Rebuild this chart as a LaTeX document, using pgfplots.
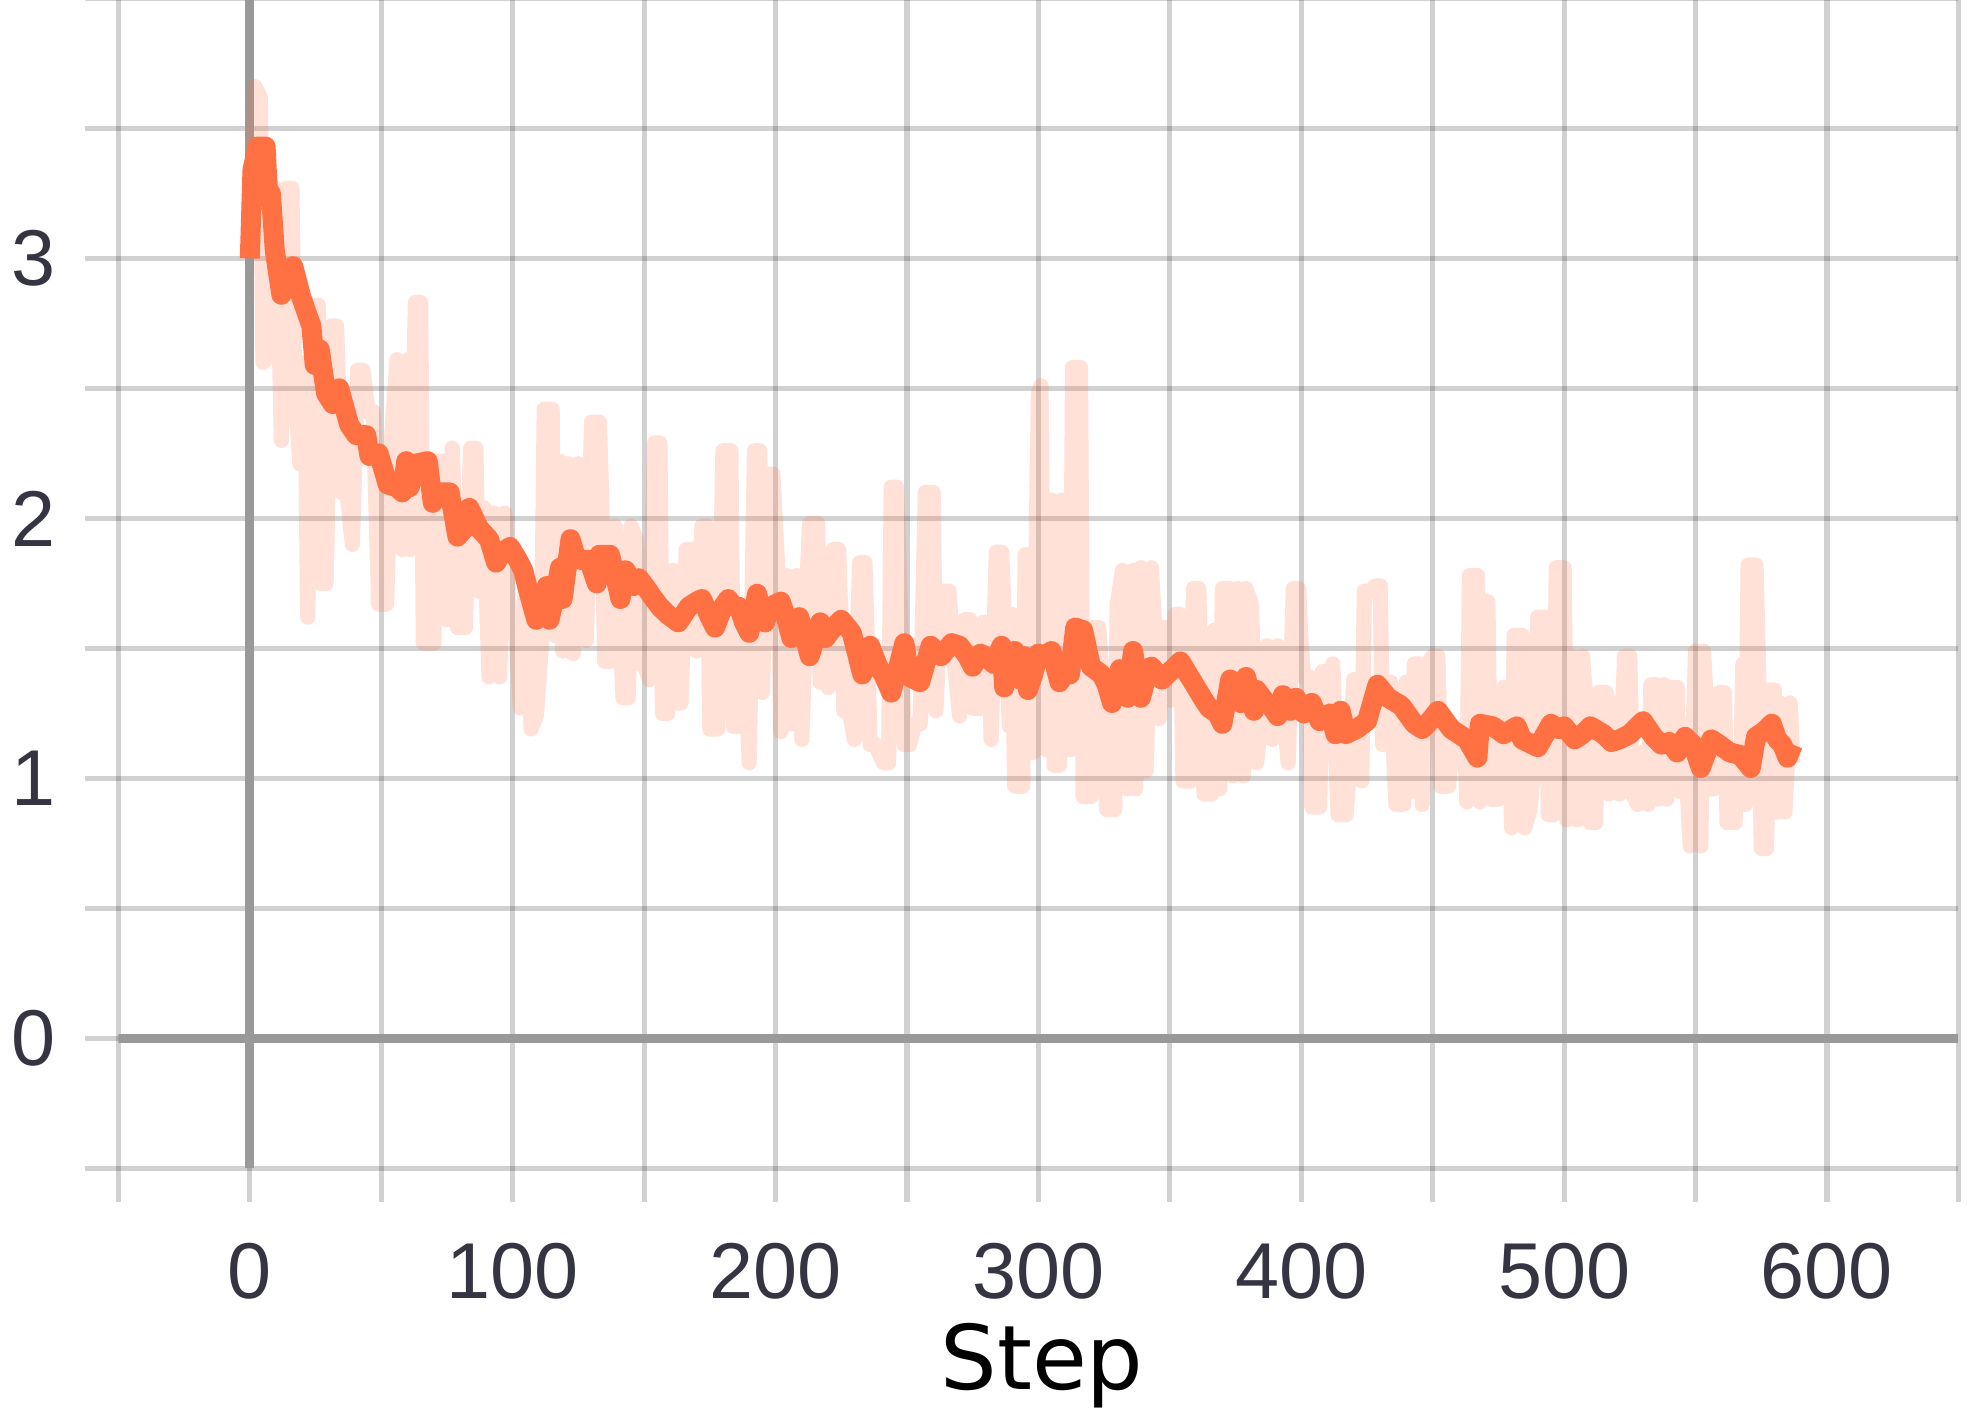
\documentclass[border=0pt]{standalone}
\usepackage{pgfplots}
\pgfplotsset{compat=1.18}
\usepackage{fontspec}
\setmainfont{Liberation Sans}
\newfontfamily\dejavu{DejaVu Sans}
\definecolor{tbOrange}{HTML}{FF7043}
\definecolor{ticktext}{RGB}{52,52,66}
\definecolor{zeroline}{RGB}{153,153,153}
\begin{document}
\begin{tikzpicture}
\useasboundingbox (-29.6pt,-59.9pt) rectangle (462.15pt,292.1pt);
\begin{axis}[
  at={(0pt,0pt)}, anchor=south west,
  scale only axis, width=460pt, height=292.5pt,
  xmin=-50, xmax=650, ymin=-0.5, ymax=4,
  xtick={0,100,...,600}, minor xtick={-50,50,150,250,350,450,550,650},
  ytick={0,1,2,3}, minor ytick={-0.5,0.5,1.5,2.5,3.5,4},
  grid=both,
  major grid style={black, opacity=0.18, line width=1.3pt},
  minor grid style={black, opacity=0.18, line width=1.3pt},
  tick align=outside,
  major tick length=8.3pt, minor tick length=8.3pt,
  tick style={black, opacity=0.18, line width=1.3pt},
  xtick pos=bottom, ytick pos=left,
  axis line style={draw=none},
  /pgf/number format/assume math mode=true,
  ticklabel style={font=\fontsize{19.8}{22}\selectfont, text=ticktext},
  xticklabel style={anchor=north, inner sep=0pt, yshift=-10.1pt},
  yticklabel style={anchor=east, inner sep=0pt, xshift=-7.3pt},
  xlabel={Step},
  xlabel style={at={(axis description cs:0.5,0)}, anchor=base, inner sep=0pt, yshift=-55.4pt, xshift=0.9pt, font=\dejavu\fontsize{22.3}{25}\selectfont, text=black},
]
\addplot[zeroline, line width=2.3pt] coordinates {(-50,0) (650,0)};
\addplot[zeroline, line width=2.3pt] coordinates {(0,-0.5) (0,4)};
% raw values
\addplot[tbOrange, opacity=0.21, line width=3.8pt, line join=round] coordinates {
(0,3.00) (2,3.66) (4,3.62) (5,2.60) (7,2.62) (9,3.27) (10,3.27) (12,2.30) (14,3.27) (16,3.27) (17,2.55) (19,2.21) (21,2.60) (22,1.62) (24,2.82) (26,2.82) (27,1.75) (29,1.75) (31,2.74) (33,2.74) (35,2.10) (37,2.10) (39,1.90) (41,2.57) (43,2.57) (45,2.41) (47,2.41) (49,1.67) (52,1.67) (54,2.32) (56,2.61) (58,1.88) (60,2.61) (61,1.88) (63,2.83) (65,2.83) (66,1.52) (70,1.52) (71,2.22) (73,2.22) (75,1.61) (77,2.27) (79,1.58) (82,1.58) (84,2.27) (86,2.27) (87,1.72) (89,2.04) (91,1.39) (93,2.02) (95,1.39) (97,2.02) (99,1.56)
(101,1.60) (103,1.27) (105,1.80) (107,1.19) (109,1.24) (111,1.52) (112,2.42) (115,2.42) (116,1.55) (118,2.22) (119,1.49) (121,2.21) (123,1.48) (125,2.21) (126,1.96) (128,1.53) (130,2.37) (133,2.37) (134,2.03) (135,1.45) (137,1.45) (139,1.97) (142,1.31) (144,1.31) (145,1.97) (147,1.92) (148,1.44) (150,1.44) (152,1.38) (154,2.29) (156,2.29) (157,1.25) (159,1.25) (161,1.80) (162,1.29) (164,1.29) (166,1.88) (168,1.88) (170,1.49) (172,1.97) (174,1.97) (175,1.19) (178,1.19) (180,2.26) (183,2.26) (184,1.20) (186,1.20) (188,1.55) (190,1.06) (192,2.26) (194,2.26) (195,1.33) (197,2.17) (199,2.17)
(201,1.77) (202,1.18) (204,1.78) (206,1.21) (208,1.78) (210,1.15) (212,1.77) (213,1.98) (216,1.98) (217,1.37) (219,1.72) (220,1.35) (222,1.88) (224,1.88) (226,1.26) (228,1.26) (230,1.15) (232,1.83) (234,1.83) (236,1.13) (238,1.13) (241,1.06) (243,1.06) (244,2.12) (246,2.12) (247,1.82) (249,1.13) (251,1.13) (253,1.21) (255,1.21) (257,2.10) (260,2.10) (261,1.26) (263,1.72) (266,1.72) (268,1.45) (270,1.24) (272,1.61) (274,1.61) (275,1.27) (278,1.27) (279,1.60) (281,1.60) (282,1.15) (284,1.87) (286,1.87) (287,1.63) (289,1.20) (290,1.63) (291,0.97) (294,0.97) (295,1.86) (297,1.86) (298,1.10) (300,2.48) (301,2.51)
(302,1.25) (303,1.11) (305,2.07) (306,1.05) (308,1.05) (309,2.07) (311,2.07) (312,1.11) (313,2.58) (316,2.58) (317,0.93) (320,0.93) (321,1.58) (323,1.58) (324,1.40) (326,0.88) (329,0.88) (330,1.67) (332,1.80) (334,0.96) (336,1.80) (337,0.96) (339,1.81) (341,1.03) (343,1.81) (344,1.62) (346,1.23) (348,1.58) (350,1.30) (352,1.63) (354,1.63) (355,0.99) (358,0.99) (359,1.73) (361,1.73) (363,0.94) (366,0.94) (367,1.57) (369,0.96) (370,1.73) (373,1.73) (374,1.01) (376,1.73) (378,1.01) (379,1.73) (381,1.67) (383,1.06) (385,1.25) (387,1.51) (389,1.15) (391,1.51) (393,1.30) (395,1.06) (397,1.73) (399,1.73)
(400,1.51) (401,1.39) (403,1.39) (404,0.89) (407,0.89) (408,1.41) (411,1.41) (412,1.44) (414,0.86) (417,0.86) (418,0.99) (420,1.38) (422,1.38) (423,0.99) (424,1.72) (427,1.72) (428,1.74) (430,1.74) (431,1.13) (433,1.13) (434,1.37) (436,0.90) (439,0.90) (440,1.37) (442,0.95) (443,1.44) (445,1.44) (446,0.90) (448,1.44) (450,1.47) (452,1.47) (453,0.97) (456,0.97) (458,1.20) (460,1.10) (462,1.20) (463,0.91) (464,1.78) (467,1.78) (468,0.91) (469,1.68) (471,1.68) (472,0.92) (475,0.92) (477,1.35) (479,1.35) (480,0.81) (481,1.55) (484,1.55) (485,0.81) (487,0.88) (489,1.10) (490,1.62) (493,1.62) (494,0.86) (496,0.86) (497,1.81) (500,1.81)
(501,0.84) (503,1.47) (505,0.84) (507,1.47) (508,1.34) (510,0.83) (512,0.83) (513,1.33) (516,1.33) (517,0.94) (519,1.29) (521,0.94) (523,1.47) (525,1.47) (526,0.94) (528,0.90) (530,1.10) (532,0.90) (533,1.36) (535,1.36) (536,0.92) (538,1.36) (539,0.92) (541,1.35) (543,1.35) (544,0.95) (546,1.10) (548,0.74) (550,1.49) (552,0.74) (553,1.49) (554,1.31) (555,0.96) (557,0.96) (559,1.33) (561,1.33) (562,0.83) (565,0.83) (566,1.10) (567,0.90) (568,1.44) (569,0.90) (570,1.82) (573,1.82) (574,1.42) (575,0.73) (577,0.73) (578,1.34) (580,1.34) (581,0.87) (582,1.29) (584,0.87) (586,1.29) (587,1.06)
};
% smoothed values
\addplot[tbOrange, line width=5pt, line join=round] coordinates {
(0,3.00) (1,3.34) (3,3.43) (6,3.43) (7,3.23) (8,3.25) (9.5,3.03) (12,2.86) (15,2.96) (16.5,2.97) (19.6,2.85) (23.4,2.74) (24.7,2.59) (26.6,2.65) (29,2.48) (31.6,2.44) (34,2.50) (37.8,2.36) (40.5,2.32) (44.3,2.32) (45.5,2.24) (49,2.25) (52.5,2.13) (56,2.12) (58,2.10) (59.5,2.22) (60.8,2.12) (63,2.21) (67.7,2.22) (69.6,2.06) (72.8,2.10) (76,2.10) (79,1.93) (81.6,1.96) (83.5,2.04) (87.3,1.96) (91,1.92) (93.7,1.83) (96,1.87) (99,1.89)
(102,1.84) (104,1.80) (106,1.72) (109,1.61) (111,1.65) (113,1.74) (114,1.61) (116,1.70) (118,1.81) (119,1.69) (122,1.92) (124,1.85) (126,1.84) (129,1.84) (132,1.75) (133,1.86) (137,1.86) (139,1.78) (141,1.69) (143,1.80) (146,1.74) (148,1.77) (151,1.73) (153,1.70) (156,1.66) (159,1.63) (163,1.60) (165,1.63) (167,1.66) (170,1.68) (172,1.69) (175,1.62) (177,1.58) (180,1.66) (182,1.69) (184,1.66) (186,1.66) (188,1.60) (190,1.56) (193,1.71) (195,1.62) (196,1.60) (198,1.66)
(202,1.68) (204,1.62) (206,1.54) (209,1.62) (211,1.55) (213,1.47) (217,1.60) (219,1.54) (222,1.58) (225,1.61) (229,1.56) (231,1.48) (233,1.40) (236,1.51) (239,1.43) (241,1.40) (244,1.33) (247,1.44) (249,1.52) (251,1.39) (255,1.37) (257,1.44) (259,1.51) (263,1.47) (267,1.52) (270,1.51) (273,1.47) (275,1.43) (278,1.48) (281,1.46) (283,1.44) (286,1.51) (287,1.35) (289,1.44) (291,1.49) (293,1.38) (294.6,1.47) (296,1.34) (298,1.40)
(300,1.48) (302,1.47) (305,1.49) (308,1.37) (310,1.40) (312,1.40) (314,1.58) (317,1.57) (320,1.43) (324,1.40) (326,1.36) (328,1.29) (331,1.42) (334,1.31) (336,1.49) (339,1.31) (341,1.39) (343,1.43) (347,1.38) (351,1.42) (354,1.45) (357,1.40) (360,1.35) (363,1.30) (365,1.27) (368,1.25) (370,1.21) (373,1.38) (377,1.29) (379,1.39) (382,1.26) (383,1.34) (386,1.30) (389,1.27) (391,1.24) (393,1.32) (396,1.26) (398,1.31)
(401,1.25) (404,1.29) (407,1.22) (411,1.25) (413,1.17) (415,1.26) (417,1.17) (421,1.19) (425,1.22) (429,1.36) (433,1.31) (438,1.28) (443,1.21) (446,1.19) (448,1.21) (452,1.26) (457,1.19) (463,1.15) (467,1.08) (468,1.21) (473,1.20) (477,1.17) (482,1.20) (484,1.15) (490,1.12) (495,1.21) (498,1.19)
(500,1.20) (504,1.15) (507,1.17) (510,1.20) (515,1.17) (518,1.14) (521,1.15) (525,1.17) (530,1.22) (534,1.16) (537,1.13) (540,1.14) (543,1.10) (546,1.16) (549,1.13) (552,1.04) (556,1.15) (559,1.13) (563,1.10) (567,1.09) (571,1.04) (573,1.16) (576,1.18) (579,1.21) (581,1.15) (583,1.13) (585,1.08) (587,1.13)
};
\end{axis}
\end{tikzpicture}
\end{document}
